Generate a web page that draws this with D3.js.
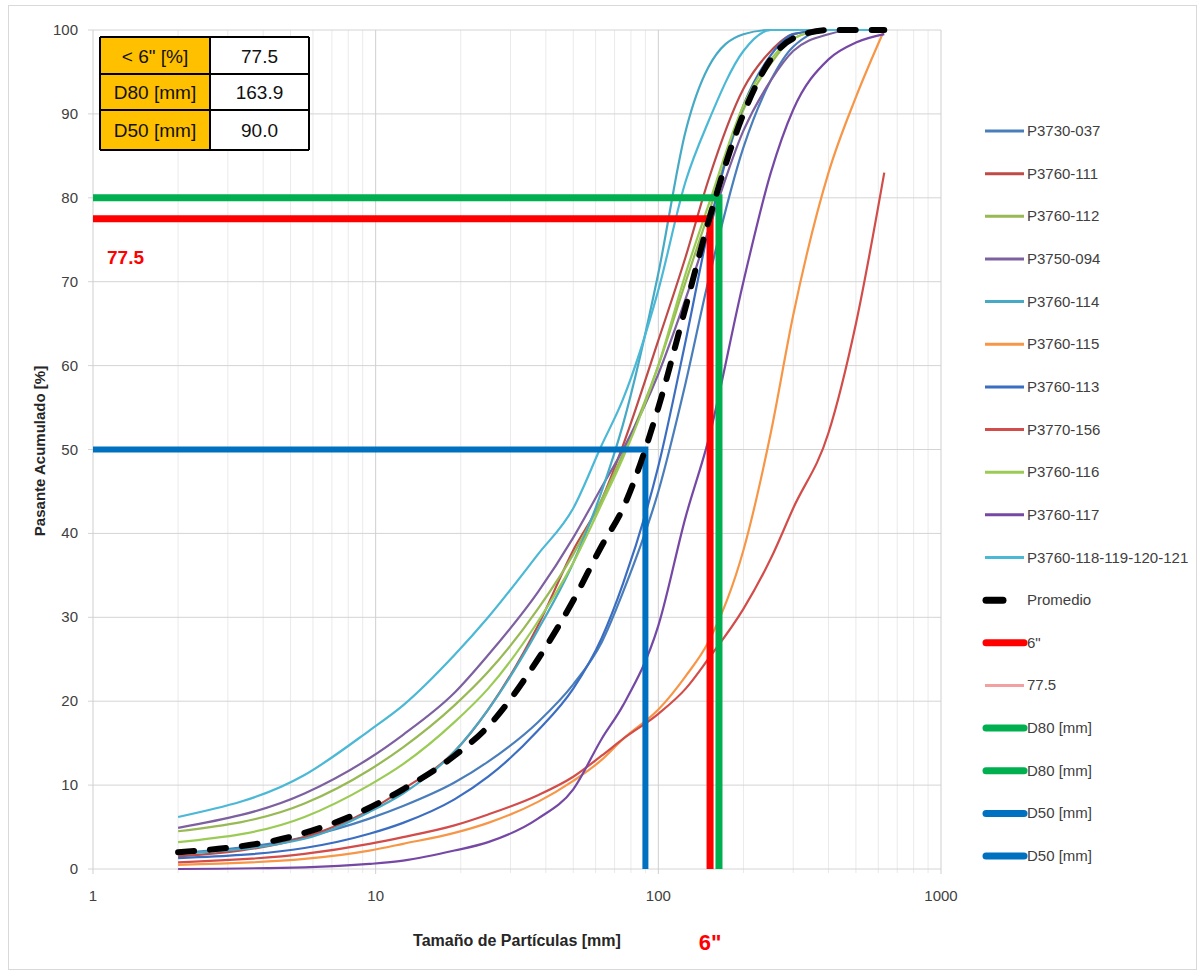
<!DOCTYPE html>
<html>
<head>
<meta charset="utf-8">
<script src="https://cdn.jsdelivr.net/npm/d3@7"></script>
<style>
  body { margin: 0; background: #fff; }
  text { font-family: "Liberation Sans Narrow", "Arial Narrow", "Liberation Sans", sans-serif; }
</style>
</head>
<body>
<script>
// tamaños de tamiz (mm)
let sizes = [2, 5.6, 9.5, 12.5, 19, 25, 37.5, 50, 63, 75, 100, 125, 150, 200, 250, 300, 400, 500, 630];

let names = ["P3730-037", "P3760-111", "P3760-112", "P3750-094", "P3760-114", "P3760-115",
             "P3760-113", "P3770-156", "P3760-116", "P3760-117", "P3760-118-119-120-121"];
let colors = ["#4A7EBB", "#BE4B48", "#98B954", "#7D60A0", "#46AAC5", "#F79646",
              "#3B6DC1", "#D24D4A", "#9BCB55", "#7548A5", "#4BB8D6"];

let p3730_037 = [1.9, 3.8, 6, 7.5, 10.3, 12.8, 17.5, 22, 27, 33, 45, 58, 70, 86, 94, 98, 100, 100, 100];
let p3760_111 = [1.5, 3.8, 7, 9.5, 14, 19, 29, 38, 44, 50.5, 63, 73, 82, 93, 97.5, 99.5, 100, 100, 100];
let p3760_112 = [4.5, 7.8, 11.8, 14.5, 19.5, 23.5, 31, 37.5, 44, 49.5, 60, 70, 78, 90.5, 96, 99, 100, 100, 100];
let p3750_094 = [4.9, 9, 13.2, 16, 21, 25.5, 33, 39.5, 45.5, 50, 59, 68, 76, 88, 94, 97.5, 99.5, 100, 100];
let p3760_114 = [1.8, 3.6, 6.8, 9, 14, 19, 28.5, 36.5, 45, 53, 71, 88, 95.5, 99.5, 100, 100, 100, 100, 100];
let p3760_115 = [0.5, 1.2, 2.2, 3, 4.3, 5.5, 8, 10.5, 13, 15.5, 19, 23, 27, 38, 52, 66, 83, 92, 100];
let p3760_113 = [1.3, 2.5, 4.2, 5.5, 8.3, 11, 16.5, 21.5, 27.5, 34, 48, 63, 76, 91, 97, 99.5, 100, 100, 100];
let p3770_156 = [0.8, 1.8, 3, 3.8, 5.2, 6.5, 8.8, 11, 13.5, 15.5, 18.5, 21.5, 25, 31, 37, 43, 52, 65, 83];
let p3760_116 = [3.2, 6.2, 10, 12.5, 17.5, 21.5, 29.5, 36.5, 43.5, 49, 60, 71, 79, 91, 96.5, 99, 100, 100, 100];
let p3760_117 = [0, 0.2, 0.6, 1, 2.2, 3.2, 6, 9.5, 15.5, 19.5, 29, 42, 51, 70, 83, 90.5, 96.5, 98.5, 99.5];
let p3760_118 = [6.2, 11.2, 16.5, 19.5, 25.5, 30, 37.5, 43, 50.5, 56, 69, 82, 89, 97.5, 100, 100, 100, 100, 100];
let promedio = [2, 4.3, 7.3, 9.5, 13.5, 17, 25, 32, 38.5, 43, 55, 67, 77, 90, 96.5, 99, 100, 100, 100];

let series = [p3730_037, p3760_111, p3760_112, p3750_094, p3760_114, p3760_115,
              p3760_113, p3770_156, p3760_116, p3760_117, p3760_118];

// tabla resumen
let tableLabels = ['< 6" [%]', "D80 [mm]", "D50 [mm]"];
let tableValues = [77.5, 163.9, 90.0];
let sixInch = 152.4;

let legendNames = names.concat(["Promedio", '6"', "77.5", "D80 [mm]", "D80 [mm]", "D50 [mm]", "D50 [mm]"]);
let xTicks = [1, 10, 100, 1000];
let yTicks = d3.range(0, 101, 10);

let width = 1203, height = 978;
let plotLeft = 93, plotRight = 941, plotTop = 30, plotBottom = 869;

let svg = d3.select("body").append("svg")
    .attr("width", width)
    .attr("height", height);

svg.append("rect")
    .attr("x", 8.5).attr("y", 5.5)
    .attr("width", 1188).attr("height", 964)
    .attr("fill", "#fff")
    .attr("stroke", "#D9D9D9");

let scaleX = d3.scaleLog().domain([1, 1000]).range([plotLeft, plotRight]);
let scaleY = d3.scaleLinear().domain([0, 100]).range([plotBottom, plotTop]);

// rejilla
let minor = [];
for (let d = 1; d < 1000; d *= 10)
    for (let k = 2; k < 10; k++) minor.push(d * k);
svg.append("g").selectAll("line").data(minor).join("line")
    .attr("x1", d => scaleX(d)).attr("x2", d => scaleX(d))
    .attr("y1", plotTop).attr("y2", plotBottom + 4)
    .attr("stroke", "#EAEAEA");
svg.append("g").selectAll("line").data(yTicks).join("line")
    .attr("x1", plotLeft - 5).attr("x2", plotRight)
    .attr("y1", d => scaleY(d)).attr("y2", d => scaleY(d))
    .attr("stroke", "#D4D4D4");
svg.append("g").selectAll("line").data(xTicks).join("line")
    .attr("x1", d => scaleX(d)).attr("x2", d => scaleX(d))
    .attr("y1", plotTop).attr("y2", plotBottom + 5)
    .attr("stroke", "#CFCFCF");

// etiquetas de ejes
svg.append("g").selectAll("text").data(yTicks).join("text")
    .attr("x", 78).attr("y", d => scaleY(d) + 5)
    .attr("text-anchor", "end")
    .attr("font-size", 15).attr("fill", "#404040")
    .text(d => d);
svg.append("g").selectAll("text").data(xTicks).join("text")
    .attr("x", d => scaleX(d)).attr("y", 901)
    .attr("text-anchor", "middle")
    .attr("font-size", 15).attr("fill", "#404040")
    .text(d => d);

svg.append("text")
    .attr("transform", `translate(45, 451) rotate(-90)`)
    .attr("text-anchor", "middle")
    .attr("font-size", 15).attr("font-weight", "bold")
    .attr("fill", "#262626")
    .text("Pasante Acumulado [%]");
svg.append("text")
    .attr("x", 517).attr("y", 946)
    .attr("text-anchor", "middle")
    .attr("font-size", 16).attr("font-weight", "bold")
    .attr("fill", "#262626")
    .text("Tamaño de Partículas [mm]");

// curvas
let line = d3.line()
    .x(d => scaleX(d[0]))
    .y(d => scaleY(d[1]))
    .curve(d3.curveMonotoneX);

series.forEach((s, i) => {
    svg.append("path")
        .datum(sizes.map((x, j) => [x, s[j]]))
        .attr("d", line)
        .attr("fill", "none")
        .attr("stroke", colors[i])
        .attr("stroke-width", 2.2);
});

// líneas de referencia
let refs = [
    { pts: [[1, 80], [tableValues[1], 80], [tableValues[1], 0]], color: "#00B050", w: 7 },
    { pts: [[1, tableValues[0]], [sixInch, tableValues[0]], [sixInch, 0]], color: "#FF0000", w: 7 },
    { pts: [[1, 50], [tableValues[2], 50], [tableValues[2], 0]], color: "#0070C0", w: 6 }
];
let straight = d3.line().x(d => scaleX(d[0])).y(d => scaleY(d[1]));
refs.forEach(r => {
    svg.append("path")
        .attr("d", straight(r.pts))
        .attr("fill", "none")
        .attr("stroke", r.color)
        .attr("stroke-width", r.w);
});

// promedio
svg.append("path")
    .datum(sizes.map((x, j) => [x, promedio[j]]))
    .attr("d", line)
    .attr("fill", "none")
    .attr("stroke", "#000")
    .attr("stroke-width", 6)
    .attr("stroke-linecap", "round")
    .attr("stroke-dasharray", "16,16");

svg.append("text")
    .attr("x", 107).attr("y", 264)
    .attr("font-size", 19).attr("font-weight", "bold")
    .attr("fill", "#FF0000")
    .text(tableValues[0]);
svg.append("text")
    .attr("x", scaleX(sixInch)).attr("y", 950)
    .attr("text-anchor", "middle")
    .attr("font-size", 22).attr("font-weight", "bold")
    .attr("fill", "#FF0000")
    .text('6"');

// tabla
let rowY = [37, 74, 110, 150];
let colX = [100, 210, 309];
let tbl = svg.append("g");
tableLabels.forEach((lab, i) => {
    tbl.append("rect")
        .attr("x", colX[0]).attr("y", rowY[i])
        .attr("width", colX[1] - colX[0]).attr("height", rowY[i + 1] - rowY[i])
        .attr("fill", "#FFC000");
    tbl.append("rect")
        .attr("x", colX[1]).attr("y", rowY[i])
        .attr("width", colX[2] - colX[1]).attr("height", rowY[i + 1] - rowY[i])
        .attr("fill", "#fff");
    tbl.append("text")
        .attr("x", (colX[0] + colX[1]) / 2).attr("y", (rowY[i] + rowY[i + 1]) / 2 + 7)
        .attr("text-anchor", "middle").attr("font-size", 19)
        .attr("fill", "#111")
        .text(lab);
    tbl.append("text")
        .attr("x", (colX[1] + colX[2]) / 2).attr("y", (rowY[i] + rowY[i + 1]) / 2 + 7)
        .attr("text-anchor", "middle").attr("font-size", 19)
        .attr("fill", "#111")
        .text(tableValues[i].toFixed(1));
});
tbl.selectAll(".h").data(rowY).join("line")
    .attr("x1", colX[0]).attr("x2", colX[2])
    .attr("y1", d => d).attr("y2", d => d)
    .attr("stroke", "#000").attr("stroke-width", 2);
tbl.selectAll(".v").data(colX).join("line")
    .attr("x1", d => d).attr("x2", d => d)
    .attr("y1", rowY[0]).attr("y2", rowY[3])
    .attr("stroke", "#000").attr("stroke-width", 2);

// leyenda
let legColors = colors.concat(["#000", "#FF0000", "#F2A0A0", "#00B050", "#00B050", "#0070C0", "#0070C0"]);
let legWidths = names.map(() => 3).concat([7, 7, 3, 7, 7, 7, 7]);
let leg = svg.append("g");
legendNames.forEach((n, i) => {
    let y = 131 + i * 42.65;
    let x2 = n === "Promedio" ? 1003 : 1024;
    leg.append("line")
        .attr("x1", legWidths[i] > 5 ? 986 : 985).attr("x2", x2)
        .attr("y1", y).attr("y2", y)
        .attr("stroke", legColors[i])
        .attr("stroke-width", legWidths[i])
        .attr("stroke-linecap", legWidths[i] > 5 ? "round" : "butt");
    leg.append("text")
        .attr("x", 1027).attr("y", y + 5)
        .attr("font-size", 15).attr("fill", "#404040")
        .text(n);
});
</script>
</body>
</html>
